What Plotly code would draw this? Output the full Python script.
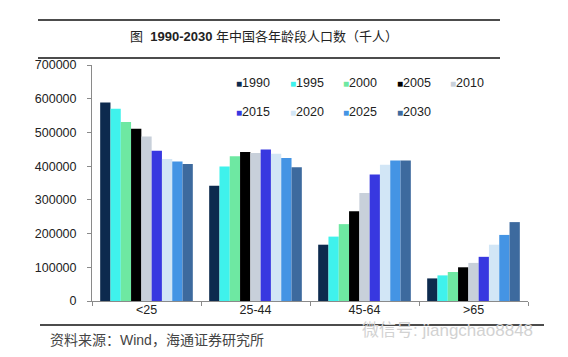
import plotly.graph_objects as go

categories = ["<25", "25-44", "45-64", ">65"]
years = ["1990", "1995", "2000", "2005", "2010", "2015", "2020", "2025", "2030"]
v1990 = [589000, 342000, 167000, 67000]
v1995 = [570000, 399000, 191000, 76000]
v2000 = [531000, 429000, 228000, 86000]
v2005 = [511000, 442000, 266000, 100000]
v2010 = [488000, 439000, 320000, 113000]
v2015 = [446000, 449000, 375000, 131000]
v2020 = [421000, 437000, 404000, 167000]
v2025 = [414000, 424000, 417000, 196000]
v2030 = [406000, 397000, 417000, 234000]
series = [v1990, v1995, v2000, v2005, v2010, v2015, v2020, v2025, v2030]
colors = ["#0d2a4e", "#3ff2ec", "#6ee8a2", "#000000", "#c8d0da",
          "#3838e0", "#d2e6f6", "#4494e4", "#3d6a9e"]

W, H = 568, 357
L, R, T, B = 84, 520, 57, 293

def px(x):
    return (x - L) / (R - L)

def py(y):
    return (B - y) / (B - T)

fig = go.Figure()
for name, vals, c in zip(years, series, colors):
    fig.add_trace(go.Bar(x=categories, y=vals, name=name, marker=dict(color=c, line=dict(width=0)),
                         showlegend=False))

annotations = []
# custom legend (two rows of five)
col_x = [226, 279.5, 333, 386.5, 440]
row_y = [75, 104]
for i, (name, c) in enumerate(zip(years, colors)):
    r, k = divmod(i, 5)
    annotations.append(dict(
        x=px(col_x[k]), y=py(row_y[r]), xref="paper", yref="paper",
        xanchor="left", yanchor="middle", showarrow=False,
        text=f'<span style="color:{c};font-size:10px">■</span>{name}',
        font=dict(family="Liberation Sans, Arial", size=12.5, color="#222")))

annotations.append(dict(
    x=px(256), y=py(28), xref="paper", yref="paper", showarrow=False,
    xanchor="center", yanchor="middle",
    text="图  <b>1990-2030</b> 年中国各年龄段人口数（千人）",
    font=dict(family="Liberation Sans, Noto Sans CJK SC", size=13, color="#222")))
annotations.append(dict(
    x=px(40), y=py(332), xref="paper", yref="paper", showarrow=False,
    xanchor="left", yanchor="middle",
    text="资料来源：Wind，海通证券研究所",
    font=dict(family="Liberation Sans, Noto Sans CJK SC", size=14, color="#444")))
annotations.append(dict(
    x=px(352), y=py(322), xref="paper", yref="paper", showarrow=False,
    xanchor="left", yanchor="middle",
    text="微信号: jiangchao8848",
    font=dict(family="Liberation Sans, Noto Sans CJK SC", size=17, color="#d2d2d2")))

shapes = [
    dict(type="line", xref="paper", yref="paper", x0=px(30), x1=px(492), y0=py(12), y1=py(12),
         line=dict(color="#111", width=1.5)),
    dict(type="line", xref="paper", yref="paper", x0=px(30), x1=px(492), y0=py(50), y1=py(50),
         line=dict(color="#111", width=1.5)),
    dict(type="line", xref="paper", yref="paper", x0=px(32), x1=px(536), y0=py(317), y1=py(317),
         line=dict(color="#111", width=1.5)),
]

fig.update_layout(
    width=W, height=H,
    margin=dict(l=L, r=W - R, t=T, b=H - B),
    paper_bgcolor="white", plot_bgcolor="white",
    barmode="group", bargap=0.15, bargroupgap=0,
    font=dict(family="Liberation Sans, Arial", size=12, color="#222"),
    annotations=annotations, shapes=shapes,
    xaxis=dict(showline=True, linecolor="#8a8a8a", linewidth=1, ticks="outside",
               tickson="boundaries", ticklen=4, tickcolor="#8a8a8a", showgrid=False,
               ticklabelstandoff=-3,
               tickfont=dict(size=12.5, color="#222")),
    yaxis=dict(range=[0, 700000], dtick=100000, showline=True, linecolor="#8a8a8a",
               linewidth=1, ticks="outside", ticklen=4, tickcolor="#8a8a8a",
               showgrid=False, zeroline=False, tickformat="d", ticklabelstandoff=8,
               tickfont=dict(size=12.5, color="#222")),
)

fig.write_html("out.html")
